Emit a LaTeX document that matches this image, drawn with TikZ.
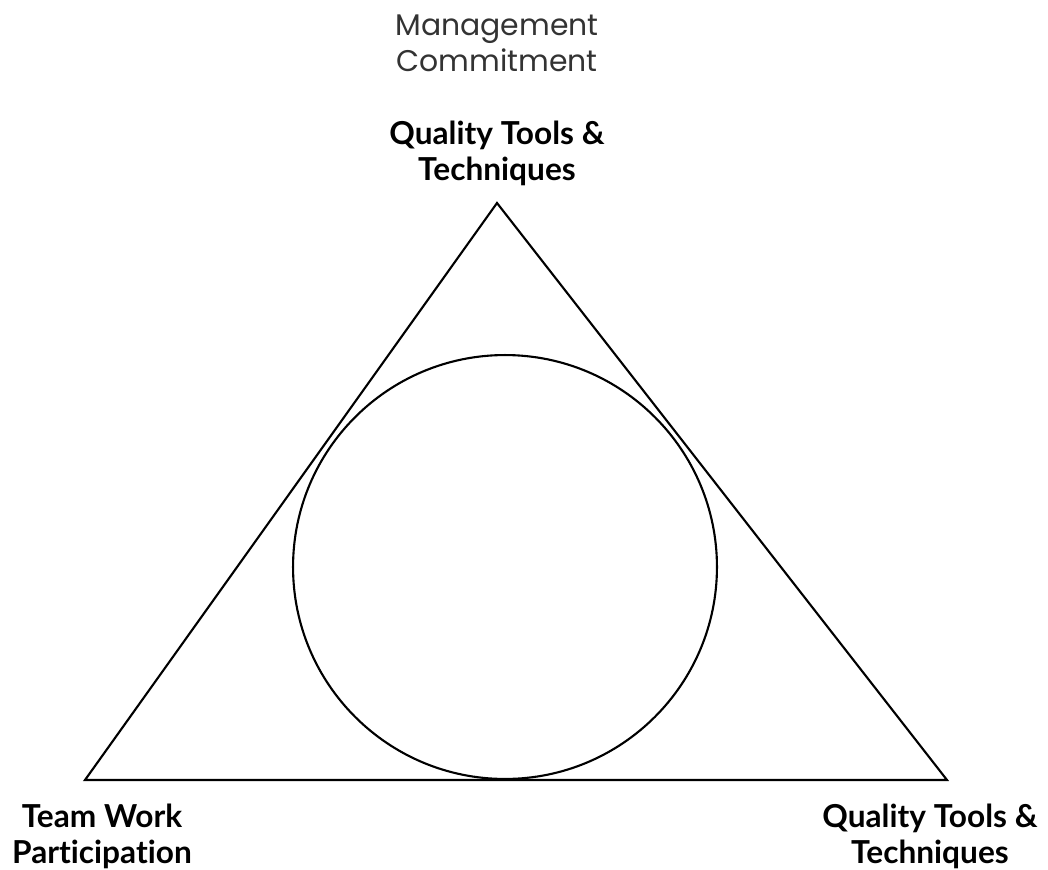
\documentclass[tikz,border=0pt]{standalone}
\usepackage{fontspec}
\setmainfont{Lato}[RawFeature=-liga]
\newfontfamily\gothic{Poppins}
\usepackage{tikz}
\usetikzlibrary{positioning, calc}

\begin{document}
\begin{tikzpicture}[
  x=0.02cm, y=-0.02cm,
  edge/.style={draw, line width=1.2pt, line join=miter},
  lbl/.style={align=center, font=\fontsize{18}{20.5}\selectfont\bfseries, inner sep=0pt},
  top/.style={align=center, font=\gothic\fontsize{17}{20.5}\selectfont, text=black!80, inner sep=0pt}
]
\useasboundingbox (0,0) rectangle (1048,869);

\coordinate (apex) at (497,203);
\coordinate (left) at (85,780);
\coordinate (right) at (947,780);

\node[top] (mgmt) at (497,43) {Management\\Commitment};
\node[lbl] (tools) at (497,153) {Quality Tools \&\\Techniques};
\node[lbl] (team) at (102,836) {Team Work\\Participation};
\node[lbl] (tools2) at (930,836) {Quality Tools \&\\Techniques};

\draw[edge] (apex) -- (left) -- (right) -- cycle;
\node[draw, circle, line width=1.2pt, minimum size=8.48cm, inner sep=0pt] (core) at (505,567) {};
\end{tikzpicture}
\end{document}
